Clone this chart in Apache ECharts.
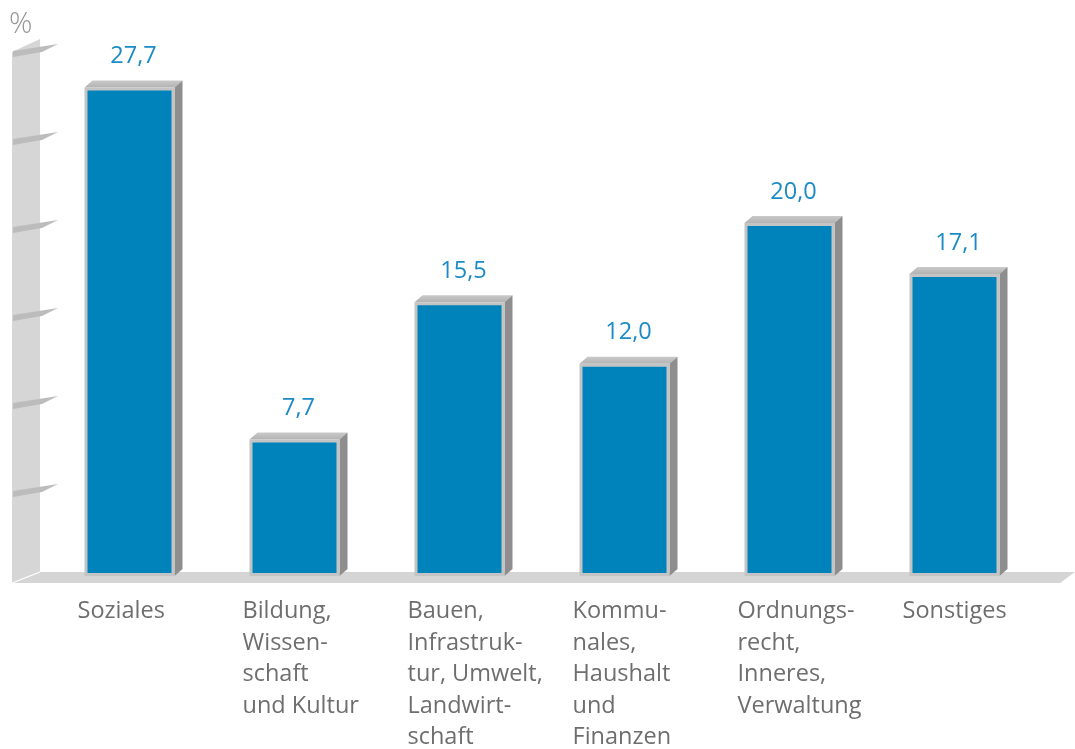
<!DOCTYPE html>
<html><head><meta charset="utf-8">
<script src="https://cdn.jsdelivr.net/npm/echarts@6/dist/echarts.min.js"></script>
<style>html,body{margin:0;padding:0;background:#fff}#c{width:1075px;height:749px}</style>
</head><body><div id="c"></div>
<script>
const categories = [
  'Soziales',
  'Bildung,\nWissen-\nschaft\nund Kultur',
  'Bauen,\nInfrastruk-\ntur, Umwelt,\nLandwirt-\nschaft',
  'Kommu-\nnales,\nHaushalt\nund\nFinanzen',
  'Ordnungs-\nrecht,\nInneres,\nVerwaltung',
  'Sonstiges'
];
const values = [27.7, 7.7, 15.5, 12.0, 20.0, 17.1];
const valueLabels = ['27,7', '7,7', '15,5', '12,0', '20,0', '17,1'];
const yTicks = [0, 5, 10, 15, 20, 25, 30];
const unitLabel = '%';

const FONT = '"Open Sans", sans-serif';
const BLUE = '#0083bb';

const chart = echarts.init(document.getElementById('c'), null, {renderer: 'canvas'});

function backdrop(params, api) {
  const v = api.value(0);
  const cs = params.coordSys;
  const wl = cs.x - 33, wr = cs.x - 5;
  const y = api.coord([0, v])[1];
  const children = [];
  if (v === 0) {
    const yTop = api.coord([0, yTicks[yTicks.length - 1]])[1];
    children.push({type: 'polygon', shape: {points: [[wl, yTop + 5], [wr, yTop - 8], [wr, y - 3], [wl, y + 8]]}, style: {fill: '#d6d6d6'}});
    children.push({type: 'polygon', shape: {points: [[wr, y - 3], [cs.x + cs.width + 40, y - 3], [cs.x + cs.width + 25, y + 8], [wl, y + 8]]}, style: {fill: '#d5d5d5'}});
    children.push({type: 'line', shape: {x1: wl, y1: y + 8, x2: wr, y2: y - 3}, style: {stroke: '#ffffff', lineWidth: 1.2}});
    children.push({type: 'text', x: wl - 3, y: yTop - 22,
      style: {text: unitLabel, fill: '#959595', fontSize: 29, fontFamily: FONT, fontWeight: 300, align: 'left', verticalAlign: 'middle'}});
  } else {
    children.push({type: 'polygon', shape: {points: [[wl + 1, y + 4], [wr + 18, y - 3], [wr + 2, y + 5], [wl + 1, y + 10]]}, style: {fill: '#bcbcbc'}});
  }
  return {type: 'group', children};
}

function bar3d(params, api) {
  const idx = api.value(0), val = api.value(1);
  const top = api.coord([idx, val]);
  const base = api.coord([idx, 0]);
  const w = 90, dx = 8, dy = 7, b = 3;
  const x0 = top[0] - w / 2 + 2, x1 = x0 + w;
  const yt = top[1], yb = base[1] + 1;
  return {
    type: 'group',
    children: [
      {type: 'polygon', shape: {points: [[x0, yt], [x0 + dx, yt - dy], [x1 + dx, yt - dy], [x1, yt]]},
        style: {fill: new echarts.graphic.LinearGradient(0, 0, 0, 1, [{offset: 0, color: '#c9c9c9'}, {offset: 1, color: '#b3b3b3'}])}},
      {type: 'polygon', shape: {points: [[x1, yt], [x1 + dx, yt - dy], [x1 + dx, yb - dy], [x1, yb]]},
        style: {fill: '#8e8e8e'}},
      {type: 'rect', shape: {x: x0, y: yt, width: w, height: yb - yt}, style: {fill: '#c4c4c4'}},
      {type: 'rect', shape: {x: x0 + b, y: yt + b, width: w - 2 * b, height: yb - yt - 2 * b}, style: {fill: BLUE}},
      {type: 'text', x: top[0] + 6, y: yt - 31,
        style: {text: valueLabels[idx], fill: '#1a8bc6', fontSize: 23.5, fontFamily: FONT, align: 'center', verticalAlign: 'middle'}},
      {type: 'text', x: top[0] - 50, y: base[1] + 21,
        style: {text: categories[idx], fill: '#6e6e6e', fontSize: 23.5, fontFamily: FONT, align: 'left', verticalAlign: 'top', lineHeight: 31.5}}
    ]
  };
}

chart.setOption({
  animation: false,
  backgroundColor: '#ffffff',
  grid: {left: 45, right: 40, top: 47, bottom: 174},
  xAxis: {type: 'category', data: categories, axisLine: {show: false}, axisTick: {show: false}, axisLabel: {show: false}, splitLine: {show: false}},
  yAxis: {type: 'value', min: 0, max: 30, interval: 5, axisLine: {show: false}, axisTick: {show: false}, axisLabel: {show: false}, splitLine: {show: false}},
  series: [
    {type: 'custom', renderItem: backdrop, data: yTicks.map(t => [t]), encode: {y: 0}, silent: true, clip: false, z: 1},
    {type: 'custom', renderItem: bar3d, data: values.map((v, i) => [i, v]), encode: {x: 0, y: 1}, clip: false, z: 2}
  ]
});
</script>
</body></html>
